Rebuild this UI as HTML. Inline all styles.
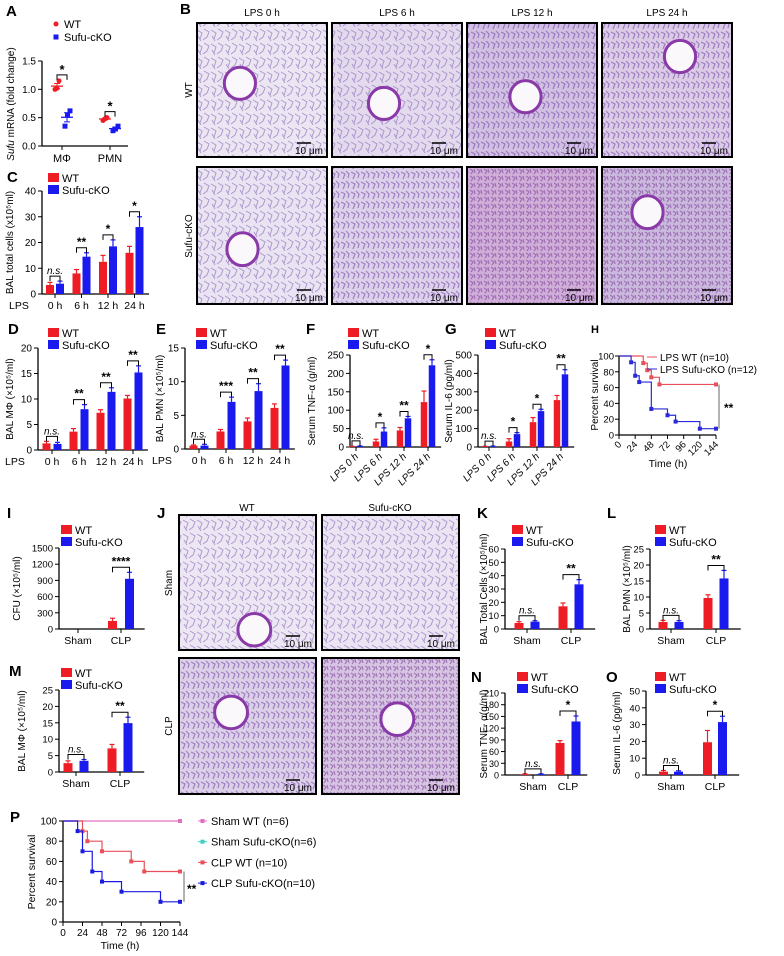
<!DOCTYPE html>
<html><head><meta charset="utf-8"><style>
html,body{margin:0;padding:0;background:#fff}
svg{display:block;font-family:"Liberation Sans",Arial,sans-serif}
</style></head><body>
<svg id="fig" width="784" height="956" viewBox="0 0 784 956" xmlns="http://www.w3.org/2000/svg">
<defs>
<pattern id="tis1" width="14" height="14" patternUnits="userSpaceOnUse"><path d="M1 2 L6 5 L4 11 M8 1 L13 4 L11 9 L7 12 M2 8 L5 13" stroke="#7a5cb0" stroke-width="1" fill="none"/></pattern>
<pattern id="tis2" width="10" height="10" patternUnits="userSpaceOnUse"><path d="M1 2 L5 4 L3 9 M6 1 L9 4 L8 8" stroke="#6a3ea0" stroke-width="1.2" fill="none"/></pattern>
<pattern id="tis3" width="7" height="7" patternUnits="userSpaceOnUse"><path d="M1 1 L4 3 L2 6 M5 1 L6 5" stroke="#7a3c98" stroke-width="1.2" fill="none"/></pattern>
</defs>
<g id="root"></g>
</svg>
<script>
// ---------- data ----------
const lpsCats = ["0 h","6 h","12 h","24 h"];
const lpsRotCats = ["LPS 0 h","LPS 6 h","LPS 12 h","LPS 24 h"];
const clpCats = ["Sham","CLP"];

const aWT = [[1.0,1.02,1.15],[0.45,0.48,0.5]];
const aKO = [[0.35,0.55,0.62],[0.27,0.3,0.35]];

const cWT=[3.5,8,12.5,16], cKO=[4,14.5,18.5,26], cWTe=[1,1.5,2.5,2.5], cKOe=[1,1.5,2.5,4], cSig=["n.s.","**","*","*"];
const dWT=[1.3,3.6,7.3,10.1], dKO=[1.2,8.0,11.4,15.2], dWTe=[0.4,0.6,0.6,0.6], dKOe=[0.3,0.9,0.8,1.3], dSig=["n.s.","**","**","**"];
const eWT=[0.5,2.6,4.1,6.1], eKO=[0.5,7.0,8.6,12.4], eWTe=[0.1,0.3,0.5,0.6], eKOe=[0.2,0.7,1.1,0.8], eSig=["n.s.","***","**","**"];
const fWT=[1,15,45,122], fKO=[2,42,78,222], fWTe=[1,6,8,30], fKOe=[1,10,5,15], fSig=["n.s.","*","**","*"];
const gWT=[2,30,135,255], gKO=[3,70,195,395], gWTe=[2,15,25,25], gKOe=[2,8,10,25], gSig=["n.s.","*","*","**"];
const iWT=[0,150], iKO=[0,930], iWTe=[0,50], iKOe=[0,120], iSig=["","****"];
const kWT=[4.5,17], kKO=[5.5,33.5], kWTe=[1,2.5], kKOe=[0.7,3.5], kSig=["n.s.","**"];
const lWT=[2.2,9.7], lKO=[2.2,15.8], lWTe=[0.5,1], lKOe=[0.4,2.5], lSig=["n.s.","**"];
const mWT=[2.7,7.2], mKO=[3.4,14.9], mWTe=[0.7,1.2], mKOe=[0.4,1.8], mSig=["n.s.","**"];
const nWT=[2,82], nKO=[2,137], nWTe=[1,6], nKOe=[1,14], nSig=["n.s.","*"];
const oWT=[2,19.5], oKO=[2,31.5], oWTe=[0.7,7], oKOe=[0.5,3.5], oSig=["n.s.","*"];

const hWTt=[0,36,42,48,60,144], hWTs=[100,91,82,73,64,64];
const hKOt=[0,18,24,30,48,72,84,120,144], hKOs=[100,92,75,67,33,25,17,8,8];
const pShWTt=[0,144], pShWTs=[100,100];
const pWTt=[0,24,30,48,84,100,144], pWTs=[100,90,80,70,60,50,50];
const pKOt=[0,18,24,36,48,72,120,144], pKOs=[100,90,70,50,40,30,20,20];

// ---------- helpers ----------
const NS="http://www.w3.org/2000/svg";
const root=document.getElementById('root');
function el(tag,attrs,parent,txt){const e=document.createElementNS(NS,tag);for(const k in attrs)e.setAttribute(k,attrs[k]);if(txt!==undefined)e.textContent=txt;(parent||root).appendChild(e);return e;}
const RED="#ee1c24", BLUE="#1a1aee";
function txt(x,y,s,size,p,extra){const t=el('text',Object.assign({x:x,y:y,'font-size':size},extra||{}),p,s);return t;}
function letter(x,y,s){const t=txt(x,y,s,15,root,{'font-weight':'bold'});

}
function legend(g,x,y,sz){
 const r1=el('rect',{x:x,y:y-9,width:11,height:9,fill:RED},g);
 
 
 const t1=txt(x+14,y,'WT',sz||11,g);
 
 
 const r2=el('rect',{x:x,y:y+3,width:11,height:9,fill:BLUE},g);
 
 
 const t2=txt(x+14,y+12,'Sufu-cKO',sz||11,g);
 
 
}
function barChart(c){
 const g=el('g',{},root);
 
 
 const ys=v=>c.yb-(v/c.max)*(c.yb-c.yt);
 const n=c.wt.length;
 const cx=i=>c.x0+i*c.step;
 const ya=el('line',{x1:c.ax,y1:c.yt,x2:c.ax,y2:c.yb,stroke:'#000','stroke-width':1.3},g);
 
 
 const xend=cx(n-1)+c.step*0.55;
 const xa=el('line',{x1:c.ax,y1:c.yb,x2:xend,y2:c.yb,stroke:'#000','stroke-width':1.3},g);
 
 
 c.ticks.forEach(t=>{const y=ys(t);el('line',{x1:c.ax-4,y1:y,x2:c.ax,y2:y,stroke:'#000'},g);
  const tl=txt(c.ax-6,y+3.5,String(t),c.tf||10,g,{'text-anchor':'end'});
  
  });
 const ty=(c.yt+c.yb)/2, tx=c.tx;
 const tt=txt(tx,ty,c.title,c.titleSize||10,g,{'text-anchor':'middle',transform:`rotate(-90 ${tx} ${ty})`});
 
 
 for(let i=0;i<n;i++){
  const x=cx(i);
  el('line',{x1:x,y1:c.yb,x2:x,y2:c.yb+4,stroke:'#000'},g);
  [[c.wt,c.wte,RED,-1],[c.ko,c.koe,BLUE,1]].forEach(([v,e,col,s])=>{
   const bx=x+s*c.off-c.bw/2, top=ys(v[i]);
   const b=el('rect',{x:bx,y:top,width:c.bw,height:c.yb-top,fill:col},g);
   
   
   if(e[i]>0){const et=ys(v[i]+e[i]);const xm=x+s*c.off;
    el('line',{x1:xm,y1:top,x2:xm,y2:et,stroke:col,'stroke-width':1.2},g);
    el('line',{x1:xm-2.5,y1:et,x2:xm+2.5,y2:et,stroke:col,'stroke-width':1.2},g);}
  });
  if(c.sig[i]){
   const top=Math.min(ys(c.wt[i]+c.wte[i]),ys(c.ko[i]+c.koe[i]))-5;
   const x1=x-c.off,x2=x+c.off;
   el('path',{d:`M${x1} ${top+5}V${top}H${x2}V${top+5}`,stroke:'#000',fill:'none','stroke-width':1},g);
   const st=txt(x,top-2,c.sig[i],c.sig[i]==='n.s.'?10:12,g,{'text-anchor':'middle','font-style':c.sig[i]==='n.s.'?'italic':'normal','font-weight':c.sig[i]==='n.s.'?'normal':'bold'});
   
   
  }
  if(c.rot){
   const lx=x+3,ly=c.yb+10;
   const xl=txt(lx,ly,c.cats[i],10,g,{'text-anchor':'end','font-style':'italic',transform:`rotate(-45 ${lx} ${ly})`});
   
   
  } else {
   const xl=txt(x,c.yb+15,c.cats[i],c.cf||10.5,g,{'text-anchor':'middle'});
   
   
  }
 }
 if(c.lps){const l=txt(c.ax-33,c.yb+15,'LPS',10.5,g);
  
  }
 legend(g,c.lx,c.ly);
}
function km(g,ts,ss,xs,ys,col){
 let d=`M${xs(ts[0])} ${ys(ss[0])}`;
 for(let i=1;i<ts.length;i++){d+=`H${xs(ts[i])}V${ys(ss[i])}`;}
 const p=el('path',{d:d,stroke:col,fill:'none','stroke-width':1.2},g);
 
 
 for(let i=1;i<ts.length;i++){
  const m=el('rect',{x:xs(ts[i])-2,y:ys(ss[i])-2,width:4,height:4,fill:col},g);
  
  
 }
}

// ---------- Panel A ----------
letter(6,16,'A');
(function(){
 const g=el('g',{},root);
 
 
 const ax=42,yb=146,yt=61,max=1.5;const ys=v=>yb-v/max*(yb-yt);
 el('line',{x1:ax,y1:yt,x2:ax,y2:yb,stroke:'#000','stroke-width':1.3},g);
 el('line',{x1:ax,y1:yb,x2:128,y2:yb,stroke:'#000','stroke-width':1.3},g);
 [0,0.5,1.0,1.5].forEach(t=>{const y=ys(t);el('line',{x1:ax-4,y1:y,x2:ax,y2:y,stroke:'#000'},g);
  const tl=txt(ax-6,y+3.5,t.toFixed(1),10,g,{'text-anchor':'end'});
  
  });
 const tt=txt(14,104,'',10,g,{'text-anchor':'middle',transform:'rotate(-90 14 104)'});
 tt.innerHTML='<tspan font-style="italic">Sufu</tspan> mRNA (fold change)';
 
 
 const cats=['M\u03A6','PMN'];const cxs=[62,110];
 cats.forEach((c,i)=>{el('line',{x1:cxs[i],y1:yb,x2:cxs[i],y2:yb+4,stroke:'#000'},g);
  const xl=txt(cxs[i],yb+16,c,11,g,{'text-anchor':'middle'});
  
  
  [[aWT[i],RED,-5],[aKO[i],BLUE,5]].forEach(([pts,col,o])=>{
   const x=cxs[i]+o;const m=pts.reduce((a,b)=>a+b)/pts.length;
   const sd=Math.sqrt(pts.reduce((a,b)=>a+(b-m)*(b-m),0)/(pts.length-1))/Math.sqrt(pts.length);
   el('line',{x1:x-6,y1:ys(m),x2:x+6,y2:ys(m),stroke:col,'stroke-width':1.3},g);
   el('path',{d:`M${x-3} ${ys(m+sd)}H${x+3}M${x} ${ys(m+sd)}V${ys(m-sd)}M${x-3} ${ys(m-sd)}H${x+3}`,stroke:col,fill:'none'},g);
   pts.forEach((p,j)=>{const pt=col===RED?el('circle',{cx:x-2+j*2,cy:ys(p),r:2.5,fill:col},g):el('rect',{x:x-4.5+j*2.5,y:ys(p)-2.5,width:5,height:5,fill:col},g);
    
    });
  });
  const top=ys(Math.max(...aWT[i],...aKO[i]))-6;
  el('path',{d:`M${cxs[i]-5} ${top+5}V${top}H${cxs[i]+5}V${top+5}`,stroke:'#000',fill:'none'},g);
  txt(cxs[i],top-1,'*',13,g,{'text-anchor':'middle','font-weight':'bold'});
 });
 el('circle',{cx:56,cy:24,r:2.5,fill:RED},g);txt(64,28,'WT',11,g);
 el('rect',{x:53.5,y:34.5,width:5,height:5,fill:BLUE},g);txt(64,41,'Sufu-cKO',11,g);
})();

// ---------- Panel B (histology) ----------
letter(180,14,'B');
const bCols=[197,332,467,602], bW=130;
const bHeads=['LPS 0 h','LPS 6 h','LPS 12 h','LPS 24 h'];
const bFills=[['#ece6f3','#e4daee','#d2c0e2','#dccbe6'],['#e9e3f2','#ddd0ea','#cfaed8','#cbb9dd']];
const bPat=[['tis1','tis1','tis2','tis2'],['tis1','tis2','tis3','tis3']];
function histo(x,y,w,h,fill,pat,name,ring){
 const g=el('g',{},root);
 
 
 el('rect',{x:x,y:y,width:w,height:h,fill:fill},g);
 el('rect',{x:x,y:y,width:w,height:h,fill:`url(#${pat})`,opacity:0.55},g);
 if(ring){el('ellipse',{cx:x+w*ring[0],cy:y+h*ring[1],rx:w*0.12,ry:h*0.12,fill:'#fbf8fc',stroke:'#8a3aa8','stroke-width':3},g);}
 el('rect',{x:x,y:y,width:w,height:h,fill:'none',stroke:'#000','stroke-width':2},g);
 el('line',{x1:x+w-30,y1:y+h-14,x2:x+w-16,y2:y+h-14,stroke:'#000','stroke-width':1.5},g);
 txt(x+w-4,y+h-3,'10 \u03BCm',10,g,{'text-anchor':'end'});
}
bCols.forEach((x,i)=>{
 const h=txt(x+bW/2,16,bHeads[i],10,root,{'text-anchor':'middle'});
 
 
 histo(x,23,bW,134,bFills[0][i],bPat[0][i],'histology-wt-'+i,[[0.33,0.45],[0.4,0.6],[0.45,0.55],[0.6,0.25]][i]);
 histo(x,167,bW,137,bFills[1][i],bPat[1][i],'histology-ko-'+i,[[0.35,0.6],null,null,[0.35,0.33]][i]);
});
let rl=txt(192,90,'WT',10,root,{'text-anchor':'middle',transform:'rotate(-90 192 90)'});

rl=txt(192,236,'Sufu-cKO',10,root,{'text-anchor':'middle',transform:'rotate(-90 192 236)'});


// ---------- Panel C ----------
letter(7,182,'C');
barChart({name:'panel-c-chart',ax:42,yb:294,yt:191,max:40,ticks:[0,10,20,30,40],x0:55,step:26.5,off:5,bw:8,wt:cWT,ko:cKO,wte:cWTe,koe:cKOe,sig:cSig,cats:lpsCats,lps:true,title:'BAL total cells (x10\u2075ml)',tx:13,lx:48,ly:182});

// ---------- D, E ----------
letter(8,334,'D');
barChart({name:'panel-d-chart',ax:38,yb:450,yt:348,max:20,ticks:[0,5,10,15,20],x0:52,step:27,off:5.5,bw:8,wt:dWT,ko:dKO,wte:dWTe,koe:dKOe,sig:dSig,cats:lpsCats,lps:true,title:'BAL M\u03A6 (\u00D710\u2075/ml)',tx:13,lx:48,ly:337});
letter(156,334,'E');
barChart({name:'panel-e-chart',ax:185,yb:449,yt:348,max:15,ticks:[0,5,10,15],x0:199,step:27,off:5.5,bw:8,wt:eWT,ko:eKO,wte:eWTe,koe:eKOe,sig:eSig,cats:lpsCats,lps:true,title:'BAL PMN (\u00D710\u2075/ml)',tx:163,lx:196,ly:337});

// ---------- F, G ----------
letter(306,334,'F');
barChart({name:'panel-f-chart',ax:350,yb:447,yt:355,max:250,ticks:[0,50,100,150,200,250],x0:356,step:24,off:4,bw:6.5,wt:fWT,ko:fKO,wte:fWTe,koe:fKOe,sig:fSig,cats:lpsRotCats,rot:true,title:'Serum TNF-\u03B1 (g/ml)',tx:315,lx:348,ly:337});
letter(445,334,'G');
barChart({name:'panel-g-chart',ax:478,yb:447,yt:355,max:500,ticks:[0,100,200,300,400,500],x0:489,step:24,off:4,bw:6.5,wt:gWT,ko:gKO,wte:gWTe,koe:gKOe,sig:gSig,cats:lpsRotCats,rot:true,title:'Serum IL-6 (pg/ml)',tx:452,lx:485,ly:337});

// ---------- H ----------
const hl=txt(591,333,'H',11,root,{'font-weight':'bold'});


(function(){
 const g=el('g',{},root);
 
 
 const ax=619,yb=435,yt=356,x144=716;
 const xs=t=>ax+t/144*(x144-ax), ys=v=>yb-v/100*(yb-yt);
 el('line',{x1:ax,y1:yt,x2:ax,y2:yb,stroke:'#000','stroke-width':1.3},g);
 el('line',{x1:ax,y1:yb,x2:x144,y2:yb,stroke:'#000','stroke-width':1.3},g);
 [0,20,40,60,80,100].forEach(t=>{el('line',{x1:ax-4,y1:ys(t),x2:ax,y2:ys(t),stroke:'#000'},g);txt(ax-5,ys(t)+3.5,String(t),9.5,g,{'text-anchor':'end'});});
 [0,24,48,72,96,120,144].forEach(t=>{el('line',{x1:xs(t),y1:yb,x2:xs(t),y2:yb+4,stroke:'#000'},g);
  const lx=xs(t)+3,ly=yb+10;txt(lx,ly,String(t),9.5,g,{'text-anchor':'end',transform:`rotate(-45 ${lx} ${ly})`});});
 txt(598,395,'Percent survival',10,g,{'text-anchor':'middle',transform:'rotate(-90 598 395)'});
 txt(668,467,'Time (h)',10.5,g,{'text-anchor':'middle'});
 km(g,hWTt,hWTs,xs,ys,'#e8505a');
 km(g,hKOt,hKOs,xs,ys,'#2a2ad8');
 el('line',{x1:719,y1:ys(64),x2:719,y2:ys(8),stroke:'#666'},g);
 txt(724,412,'**',12,g,{'font-weight':'bold'});
 el('line',{x1:647,y1:357,x2:657,y2:357,stroke:'#e8505a'},g);txt(660,361,'LPS WT (n=10)',10,g);
 el('line',{x1:647,y1:369,x2:657,y2:369,stroke:'#2a2ad8'},g);txt(660,373,'LPS Sufu-cKO (n=12)',10,g);
})();

// ---------- I ----------
letter(7,518,'I');
barChart({name:'panel-i-chart',ax:59,yb:629,yt:548,max:1500,ticks:[0,300,600,900,1200,1500],x0:78,step:43,off:8.5,bw:9,wt:iWT,ko:iKO,wte:iWTe,koe:iKOe,sig:iSig,cats:clpCats,title:'CFU (\u00D710\u2075/ml)',tx:20,lx:61,ly:534,tf:9.5});

// ---------- J (histology) ----------
letter(157,518,'J');
[['WT',247],['Sufu-cKO',390]].forEach(([s,x])=>{const h=txt(x,511,s,10,root,{'text-anchor':'middle'});});
histo(179,515,137,135,'#ede7f3','tis1','histology-sham-wt',[0.55,0.85]);
histo(322,515,137,135,'#ebe4f2','tis1','histology-sham-ko',null);
histo(179,658,137,136,'#dccfe8','tis2','histology-clp-wt',[0.38,0.4]);
histo(322,658,137,136,'#d6c4e2','tis3','histology-clp-ko',[0.55,0.45]);
rl=txt(172,583,'Sham',10,root,{'text-anchor':'middle',transform:'rotate(-90 172 583)'});

rl=txt(172,726,'CLP',10,root,{'text-anchor':'middle',transform:'rotate(-90 172 726)'});


// ---------- K, L ----------
letter(477,518,'K');
barChart({name:'panel-k-chart',ax:505,yb:629,yt:549,max:60,ticks:[0,10,20,30,40,50,60],x0:527,step:44,off:8,bw:9,wt:kWT,ko:kKO,wte:kWTe,koe:kKOe,sig:kSig,cats:clpCats,title:'BAL Total Cells (\u00D710\u2075/ml)',tx:487,lx:512,ly:534,tf:9.5});
letter(607,518,'L');
barChart({name:'panel-l-chart',ax:650,yb:629,yt:549,max:25,ticks:[0,5,10,15,20,25],x0:671,step:45,off:8,bw:9,wt:lWT,ko:lKO,wte:lWTe,koe:lKOe,sig:lSig,cats:clpCats,title:'BAL PMN (\u00D710\u2075/ml)',tx:630,lx:655,ly:534,tf:9.5});

// ---------- M, N, O ----------
letter(9,676,'M');
barChart({name:'panel-m-chart',ax:59,yb:772,yt:690,max:25,ticks:[0,5,10,15,20,25],x0:76,step:44,off:8,bw:9,wt:mWT,ko:mKO,wte:mWTe,koe:mKOe,sig:mSig,cats:clpCats,title:'BAL M\u03A6 (\u00D710\u2075/ml)',tx:25,lx:61,ly:677,tf:9.5});
letter(471,682,'N');
barChart({name:'panel-n-chart',ax:505,yb:775,yt:693,max:210,ticks:[0,30,60,90,120,150,180,210],x0:533,step:35,off:8,bw:9,wt:nWT,ko:nKO,wte:nWTe,koe:nKOe,sig:nSig,cats:clpCats,title:'Serum TNF- \u03B1(g/ml)',tx:487,lx:517,ly:681,tf:9});
letter(606,682,'O');
barChart({name:'panel-o-chart',ax:646,yb:775,yt:691,max:50,ticks:[0,10,20,30,40,50],x0:671,step:44,off:7.5,bw:9,wt:oWT,ko:oKO,wte:oWTe,koe:oKOe,sig:oSig,cats:clpCats,title:'Serum IL-6 (pg/ml)',tx:620,lx:655,ly:681,tf:9.5});

// ---------- P ----------
letter(10,822,'P');
(function(){
 const g=el('g',{},root);
 
 
 const ax=63,yb=922,yt=821,x144=180;
 const xs=t=>ax+t/144*(x144-ax), ys=v=>yb-v/100*(yb-yt);
 el('line',{x1:ax,y1:yt,x2:ax,y2:yb,stroke:'#000','stroke-width':1.3},g);
 el('line',{x1:ax,y1:yb,x2:x144,y2:yb,stroke:'#000','stroke-width':1.3},g);
 [0,20,40,60,80,100].forEach(t=>{el('line',{x1:ax-4,y1:ys(t),x2:ax,y2:ys(t),stroke:'#000'},g);txt(ax-6,ys(t)+3.5,String(t),10,g,{'text-anchor':'end'});});
 [0,24,48,72,96,120,144].forEach(t=>{el('line',{x1:xs(t),y1:yb,x2:xs(t),y2:yb+4,stroke:'#000'},g);txt(xs(t),yb+14,String(t),10,g,{'text-anchor':'middle'});});
 txt(35,872,'Percent survival',10.5,g,{'text-anchor':'middle',transform:'rotate(-90 35 872)'});
 txt(120,949,'Time (h)',10.5,g,{'text-anchor':'middle'});
 km(g,pShWTt,pShWTs,xs,ys,'#e070c0');
 km(g,pWTt,pWTs,xs,ys,'#e8505a');
 km(g,pKOt,pKOs,xs,ys,'#1a1ae0');
 el('line',{x1:184,y1:ys(50),x2:184,y2:ys(20),stroke:'#666'},g);
 txt(187,893,'**',12,g,{'font-weight':'bold'});
 const leg=[['Sham WT (n=6)','#e070c0'],['Sham Sufu-cKO(n=6)','#40d0c0'],['CLP WT (n=10)','#e8505a'],['CLP Sufu-cKO(n=10)','#1a1ae0']];
 leg.forEach(([s,c],i)=>{const y=821+i*20.7;el('line',{x1:198,y1:y,x2:207,y2:y,stroke:c},g);el('rect',{x:200.5,y:y-2,width:4,height:4,fill:c},g);
  const t=txt(211,y+4,s,11,g);});
})();
</script>
</body></html>
